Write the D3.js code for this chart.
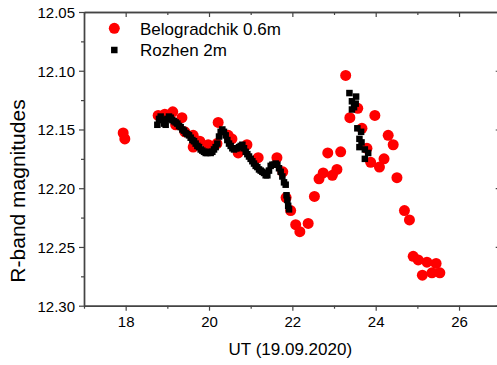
<!DOCTYPE html>
<html>
<head>
<meta charset="utf-8">
<script src="https://cdn.jsdelivr.net/npm/d3@7"></script>
<style>
  body { margin: 0; background: #fff; }
  svg { display: block; font-family: Arial, "Liberation Sans", sans-serif; }
  .axis path, .axis line { stroke: #444; }
  .axis path { stroke-width: 1.4; }
  .axis line { stroke-width: 1.2; }
  .axis text { fill: #000; font-size: 15px; font-family: Arial, "Liberation Sans", sans-serif; }
</style>
</head>
<body>
<div id="chart"></div>
<script>
// Belogradchik 0.6m (red circles): UT hours, R magnitude
var belogradchikUT = [17.94, 17.98, 18.78, 18.94, 19.13, 19.35, 19.20, 19.42, 19.62, 19.62,
  19.78, 19.98, 20.19, 20.22, 20.46, 20.55, 20.70, 20.91, 21.18, 21.63, 21.77, 21.85, 21.96,
  22.08, 22.18, 22.38, 22.53, 22.64, 22.74, 22.85, 22.96, 23.07, 23.16, 23.28, 23.38, 23.57,
  23.67, 23.79, 23.88, 23.98, 24.09, 24.20, 24.30, 24.42, 24.51, 24.69, 24.81, 24.90, 25.02,
  25.23, 25.45, 25.12, 25.35, 25.54];
var belogradchikMag = [12.153, 12.158, 12.138, 12.137, 12.135, 12.140, 12.146, 12.152, 12.155, 12.165,
  12.160, 12.163, 12.162, 12.144, 12.155, 12.158, 12.170, 12.163, 12.174, 12.174, 12.186, 12.208, 12.219,
  12.231, 12.237, 12.230, 12.207, 12.192, 12.187, 12.170, 12.189, 12.184, 12.169, 12.104, 12.140, 12.132,
  12.149, 12.166, 12.178, 12.138, 12.182, 12.175, 12.155, 12.163, 12.191, 12.219, 12.227, 12.258, 12.261,
  12.263, 12.264, 12.274, 12.272, 12.272];

// Rozhen 2m (black squares)
var rozhenUT = [18.76, 18.80, 18.84, 18.88, 18.92, 18.96, 19.00, 19.04, 19.08, 19.12, 19.16, 19.20,
  19.24, 19.28, 19.32, 19.36, 19.40, 19.44, 19.48, 19.52, 19.56, 19.60, 19.64, 19.68, 19.72, 19.76,
  19.80, 19.84, 19.88, 19.92, 19.96, 20.00, 20.04, 20.08, 20.12, 20.16, 20.20, 20.24, 20.28, 20.32,
  20.36, 20.40, 20.44, 20.48, 20.52, 20.56, 20.60, 20.64, 20.68, 20.72, 20.76, 20.80, 20.84, 20.88,
  20.92, 20.96, 21.00, 21.04, 21.08, 21.12, 21.16, 21.20, 21.24, 21.28, 21.32, 21.36, 21.40, 21.44,
  21.48, 21.52, 21.56, 21.60, 21.64, 21.68, 21.72, 21.76, 21.80, 21.84, 21.86, 21.88, 21.90, 21.92,
  23.37, 23.53, 23.43, 23.48, 23.43, 23.52, 23.56, 23.65, 23.61, 23.66, 23.61, 23.74, 23.82, 23.74];
var rozhenMag = [12.146, 12.141, 12.139, 12.142, 12.145, 12.146, 12.141, 12.139, 12.140, 12.142, 12.143, 12.144,
  12.145, 12.147, 12.148, 12.150, 12.151, 12.153, 12.154, 12.155, 12.157, 12.159, 12.160, 12.162, 12.164, 12.165,
  12.167, 12.168, 12.169, 12.170, 12.170, 12.169, 12.170, 12.169, 12.167, 12.165, 12.162, 12.156, 12.152, 12.150,
  12.152, 12.155, 12.159, 12.162, 12.164, 12.166, 12.167, 12.166, 12.166, 12.165, 12.164, 12.163, 12.166, 12.169,
  12.171, 12.173, 12.175, 12.177, 12.179, 12.181, 12.182, 12.184, 12.185, 12.186, 12.187, 12.189, 12.189, 12.185,
  12.181, 12.180, 12.180, 12.179, 12.180, 12.183, 12.186, 12.190, 12.195, 12.197, 12.206, 12.210, 12.215, 12.218,
  12.119, 12.122, 12.126, 12.131, 12.133, 12.128, 12.149, 12.152, 12.158, 12.161, 12.165, 12.167, 12.170, 12.175];

var xTicks = [18, 20, 22, 24, 26];
var xMinorTicks = [17, 19, 21, 23, 25, 27];
var yTicks = [12.05, 12.10, 12.15, 12.20, 12.25, 12.30];
var yMinorTicks = [12.075, 12.125, 12.175, 12.225, 12.275];

var width = 497, height = 365;
var plot = {left: 84, right: 500.7, top: 12, bottom: 305.7};

var svg = d3.select("#chart").append("svg")
    .attr("width", width)
    .attr("height", height);

var xScale = d3.scaleLinear().domain([17, 27]).range([plot.left, plot.right]);
var yScale = d3.scaleLinear().domain([12.05, 12.30]).range([plot.top, plot.bottom]);

// bottom axis, ticks outward
svg.append("g")
    .attr("class", "x axis")
    .attr("transform", `translate(0,${plot.bottom})`)
    .call(d3.axisBottom(xScale).tickValues(xMinorTicks).tickFormat("").tickSize(3).tickSizeOuter(0));
svg.append("g")
    .attr("class", "x axis")
    .attr("transform", `translate(0,${plot.bottom})`)
    .call(d3.axisBottom(xScale).tickValues(xTicks).tickFormat(d3.format("d")).tickSize(5).tickPadding(6).tickSizeOuter(0));

// top axis, ticks inward
svg.append("g")
    .attr("class", "x axis")
    .attr("transform", `translate(0,${plot.top})`)
    .call(d3.axisTop(xScale).tickValues(xMinorTicks).tickFormat("").tickSize(-3).tickSizeOuter(0));
svg.append("g")
    .attr("class", "x axis")
    .attr("transform", `translate(0,${plot.top})`)
    .call(d3.axisTop(xScale).tickValues(xTicks).tickFormat("").tickSize(-5).tickSizeOuter(0));

// left axis, ticks outward
svg.append("g")
    .attr("class", "y axis")
    .attr("transform", `translate(${plot.left},0)`)
    .call(d3.axisLeft(yScale).tickValues(yMinorTicks).tickFormat("").tickSize(3).tickSizeOuter(0));
svg.append("g")
    .attr("class", "y axis")
    .attr("transform", `translate(${plot.left},0)`)
    .call(d3.axisLeft(yScale).tickValues(yTicks).tickFormat(d3.format(".2f")).tickSize(5).tickPadding(4).tickSizeOuter(0));

// right axis, ticks inward
svg.append("g")
    .attr("class", "y axis")
    .attr("transform", `translate(${plot.right},0)`)
    .call(d3.axisRight(yScale).tickValues(yMinorTicks).tickFormat("").tickSize(-3).tickSizeOuter(0));
svg.append("g")
    .attr("class", "y axis")
    .attr("transform", `translate(${plot.right},0)`)
    .call(d3.axisRight(yScale).tickValues(yTicks).tickFormat("").tickSize(-5).tickSizeOuter(0));

svg.selectAll(".y.axis text").attr("dy", "0.36em");

// axis titles
svg.append("text")
    .attr("x", (xScale(17) + xScale(27)) / 2 - 2)
    .attr("y", 355)
    .attr("text-anchor", "middle")
    .style("font-size", "17px")
    .text("UT (19.09.2020)");

svg.append("text")
    .attr("transform", "translate(25,191) rotate(-90)")
    .attr("text-anchor", "middle")
    .style("font-size", "21px")
    .text("R-band magnitudes");

// data
svg.append("g")
    .selectAll("circle")
    .data(belogradchikUT)
    .enter()
    .append("circle")
    .attr("cx", d => xScale(d))
    .attr("cy", (d, i) => yScale(belogradchikMag[i]))
    .attr("r", 5.5)
    .attr("fill", "#ff0000");

var sq = 6.5;
svg.append("g")
    .selectAll("rect")
    .data(rozhenUT)
    .enter()
    .append("rect")
    .attr("x", d => xScale(d) - sq / 2)
    .attr("y", (d, i) => yScale(rozhenMag[i]) - sq / 2)
    .attr("width", sq)
    .attr("height", sq)
    .attr("fill", "#000");

// legend
var legend = svg.append("g").style("font-size", "17px");
legend.append("circle")
    .attr("cx", 114.3).attr("cy", 28.3).attr("r", 5.5)
    .attr("fill", "#ff0000");
legend.append("text")
    .attr("x", 140).attr("y", 34.5)
    .text("Belogradchik 0.6m");
legend.append("rect")
    .attr("x", 114.3 - sq / 2).attr("y", 50 - sq / 2)
    .attr("width", sq).attr("height", sq)
    .attr("fill", "#000");
legend.append("text")
    .attr("x", 140).attr("y", 56)
    .text("Rozhen 2m");
</script>
</body>
</html>
